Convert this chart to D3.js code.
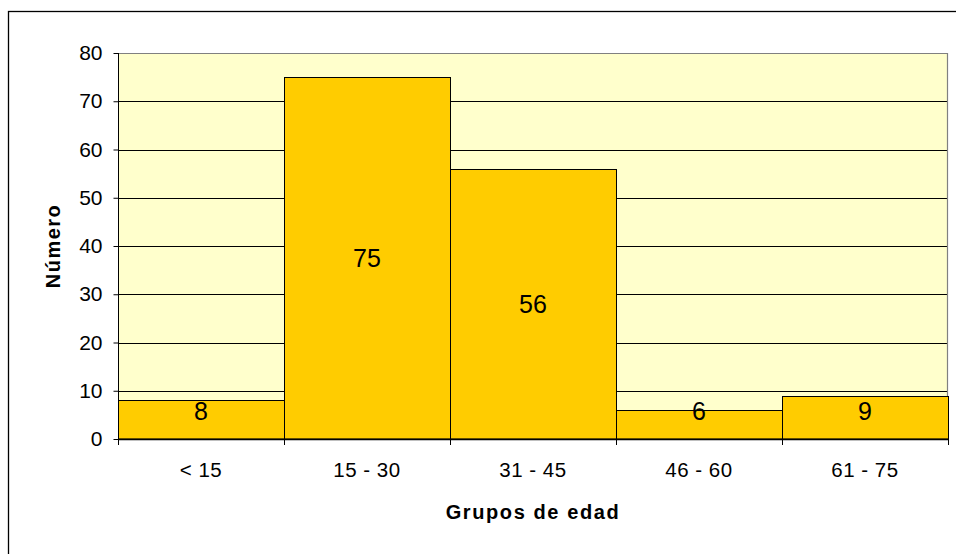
<!DOCTYPE html>
<html>
<head>
<meta charset="utf-8">
<script src="https://cdn.jsdelivr.net/npm/d3@7"></script>
<style>
  html, body { margin: 0; padding: 0; background: #fff; }
  svg { display: block; }
  text { font-family: "Liberation Sans", Arial, sans-serif; fill: #000; }
</style>
</head>
<body>
<svg id="chart" width="956" height="554"></svg>
<script>
const categories = ["< 15", "15 - 30", "31 - 45", "46 - 60", "61 - 75"];
const values = [8, 75, 56, 6, 9];
const yTicks = [0, 10, 20, 30, 40, 50, 60, 70, 80];
const xTitle = "Grupos de edad";
const yTitle = "Número";

const svg = d3.select("#chart");
const plot = { left: 118, right: 948, top: 53, bottom: 439 };

// outer chart border (extends past the viewport at right & bottom)
svg.append("rect")
  .attr("x", 8.5).attr("y", 11.5)
  .attr("width", 1000).attr("height", 600)
  .attr("fill", "#fff").attr("stroke", "#000").attr("stroke-width", 1.3);

const x = d3.scaleBand().domain(categories).range([plot.left, plot.right]).padding(0);
const y = d3.scaleLinear().domain([0, 80]).range([plot.bottom, plot.top]);

// plot background
svg.append("rect")
  .attr("x", plot.left).attr("y", plot.top)
  .attr("width", plot.right - plot.left).attr("height", plot.bottom - plot.top)
  .attr("fill", "#FFFFCC");

// gridlines
svg.append("g").selectAll("line")
  .data(yTicks.filter(d => d > 0 && d < 80))
  .join("line")
  .attr("x1", plot.left).attr("x2", plot.right)
  .attr("y1", d => Math.round(y(d)) + 0.5).attr("y2", d => Math.round(y(d)) + 0.5)
  .attr("stroke", "#000").attr("stroke-width", 1);

// plot border top & right (grey)
svg.append("path")
  .attr("d", `M${plot.left},${plot.top + 0.5}H${plot.right - 0.5}V${plot.bottom}`)
  .attr("fill", "none").attr("stroke", "#808080").attr("stroke-width", 1.2);

// bars
svg.append("g").selectAll("rect")
  .data(values)
  .join("rect")
  .attr("x", (d, i) => x(categories[i]) + 0.5)
  .attr("y", d => Math.round(y(d)) + 0.5)
  .attr("width", x.bandwidth())
  .attr("height", d => y(0) - Math.round(y(d)) - 0.5)
  .attr("fill", "#FFCC00")
  .attr("stroke", "#000").attr("stroke-width", 1);

// value labels
svg.append("g").selectAll("text")
  .data(values)
  .join("text")
  .attr("x", (d, i) => x(categories[i]) + x.bandwidth() / 2)
  .attr("y", d => Math.min((y(d) + y(0)) / 2, y(0) - 28))
  .attr("dy", "0.36em")
  .attr("text-anchor", "middle")
  .attr("font-size", 25)
  .text(d => d);

// y axis
const yAxis = svg.append("g")
  .attr("transform", `translate(${plot.left + 0.5},0)`)
  .call(d3.axisLeft(y).tickValues(yTicks).tickSize(5).tickPadding(11).tickFormat(d3.format("d")));
yAxis.select(".domain").attr("stroke", "#000").attr("d", `M-0,${plot.top}V${plot.bottom}`);
yAxis.selectAll(".tick line").attr("stroke", "#000");
yAxis.selectAll(".tick text")
  .attr("font-size", 21)
  .attr("font-family", "Liberation Sans, Arial, sans-serif").attr("fill", "#000");

// x axis line
svg.append("line")
  .attr("x1", plot.left).attr("x2", plot.right)
  .attr("y1", plot.bottom + 0.5).attr("y2", plot.bottom + 0.5)
  .attr("stroke", "#000").attr("stroke-width", 1.3);

// x ticks at category boundaries
const bounds = categories.map(c => x(c)).concat([x.range()[1]]);
svg.append("g").selectAll("line")
  .data(bounds)
  .join("line")
  .attr("x1", d => Math.round(d) + 0.5).attr("x2", d => Math.round(d) + 0.5)
  .attr("y1", plot.bottom).attr("y2", plot.bottom + 6)
  .attr("stroke", "#000");

// x tick labels
svg.append("g").selectAll("text")
  .data(categories)
  .join("text")
  .attr("x", d => x(d) + x.bandwidth() / 2)
  .attr("y", 477)
  .attr("text-anchor", "middle")
  .attr("font-size", 20.5)
  .attr("letter-spacing", 0.5)
  .text(d => d);

// axis titles
svg.append("text")
  .attr("x", (plot.left + plot.right) / 2)
  .attr("y", 519)
  .attr("text-anchor", "middle")
  .attr("font-size", 20)
  .attr("font-weight", "bold")
  .attr("letter-spacing", 1.6)
  .text(xTitle);

svg.append("text")
  .attr("transform", `translate(60,${(plot.top + plot.bottom) / 2}) rotate(-90)`)
  .attr("text-anchor", "middle")
  .attr("font-size", 20)
  .attr("font-weight", "bold")
  .attr("letter-spacing", 1.5)
  .text(yTitle);
</script>
</body>
</html>
